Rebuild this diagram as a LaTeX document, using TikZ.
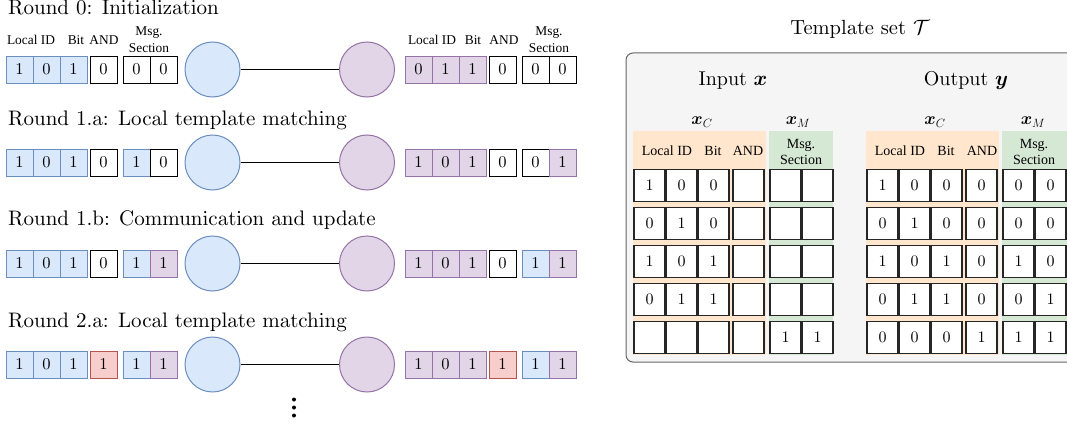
\documentclass[tikz,border=0pt]{standalone}
\usepackage{amsmath,bm}
\usepackage{fontspec}
\newfontfamily\labfont{Liberation Serif}
\DeclareFontFamily{OT1}{cmten}{}
\DeclareFontShape{OT1}{cmten}{m}{n}{<-> cmr10}{}
\newcommand\tenfont[1]{\fontencoding{OT1}\fontfamily{cmten}\fontsize{#1}{#1}\selectfont}
\definecolor{bfill}{HTML}{DAE8FC}\definecolor{bdraw}{HTML}{6C8EBF}
\definecolor{pfill}{HTML}{E1D5E7}\definecolor{pdraw}{HTML}{9673A6}
\definecolor{rfill}{HTML}{F8CECC}\definecolor{rdraw}{HTML}{B85450}
\definecolor{ofill}{HTML}{FFE6CC}\definecolor{gfill}{HTML}{D5E8D4}
\definecolor{boxfill}{HTML}{F5F5F5}\definecolor{boxdraw}{HTML}{666666}
\newcommand\cellrow[4]{%
  \foreach \s/\v [count=\i] in {#4} {
    \pgfmathsetmacro\cx{#2+{0,27,54,84,117,144}[\i-1]}
    \node[cell\s] (#1\i) at (\cx,#3) {\v};
  }}
\newcommand\tabrow[4]{%
  \foreach \v [count=\i] in {#4} {
    \pgfmathsetmacro\cx{#2+{0,32,64,99,136,168}[\i-1]}
    \node[tcell] (#1\i) at (\cx,#3) {\v};
  }}
\begin{document}
\begin{tikzpicture}[x=1pt,y=-1pt,
  cellbase/.style={rectangle,minimum width=27pt,minimum height=27pt,inner sep=0pt,line width=0.8pt,font=\tenfont{16.5}},
  cellb/.style={cellbase,draw=bdraw,fill=bfill},
  cellp/.style={cellbase,draw=pdraw,fill=pfill},
  cellr/.style={cellbase,draw=rdraw,fill=rfill},
  cellw/.style={cellbase,draw=black,fill=white},
  nodeb/.style={circle,minimum size=55pt,inner sep=0pt,draw=bdraw,fill=bfill,line width=1pt},
  nodep/.style={circle,minimum size=55pt,inner sep=0pt,draw=pdraw,fill=pfill,line width=1pt},
  link/.style={line width=1.3pt,black},
  title/.style={anchor=base west,inner sep=0pt,font=\tenfont{21}},
  lab/.style={anchor=base,inner sep=0pt,font=\labfont\fontsize{13.4}{14}\selectfont},
  tlab/.style={anchor=base,inner sep=0pt,font=\labfont\fontsize{14}{15}\selectfont},
  head/.style={anchor=base,inner sep=0pt,font=\tenfont{20}},
  sub/.style={anchor=center,inner sep=0pt,font=\tenfont{17}},
  tcell/.style={rectangle,minimum width=31pt,minimum height=32pt,inner sep=0pt,draw=black!85,line width=1.5pt,fill=white,font=\tenfont{16}},
]
\useasboundingbox (0,0) rectangle (1067,425);
\fill[white] (0,0) rectangle (1067,425);
\begin{scope}
\clip (0,0) rectangle (1067,425);
% ---------- left panel ----------
\node[title] (t0) at (8,15) {Round 0: Initialization};
\node[title] (t1) at (8,125) {Round 1.a: Local template matching};
\node[title] (t2) at (8,225) {Round 1.b: Communication and update};
\node[title] (t3) at (8,327) {Round 2.a: Local template matching};
% labels row 0
\node[lab] (ll1) at (31,45) {Local ID};
\node[lab] (ll2) at (76,45) {Bit};
\node[lab] (ll3) at (104,45) {AND};
\node[lab] (ll4) at (149,36) {Msg.};
\node[lab] (ll5) at (149,53) {Section};
\node[lab] (rl1) at (432,45) {Local ID};
\node[lab] (rl2) at (473,45) {Bit};
\node[lab] (rl3) at (504,45) {AND};
\node[lab] (rl4) at (549,36) {Msg.};
\node[lab] (rl5) at (549,53) {Section};
% rows
\cellrow{aL}{19.5}{69.5}{b/1,b/0,b/1,w/0,w/0,w/0}
\cellrow{aR}{418.5}{69.5}{p/0,p/1,p/1,w/0,w/0,w/0}
\cellrow{bL}{19.5}{162.5}{b/1,b/0,b/1,w/0,b/1,w/0}
\cellrow{bR}{418.5}{162.5}{p/1,p/0,p/1,w/0,w/0,p/1}
\cellrow{cL}{19.5}{263.5}{b/1,b/0,b/1,w/0,b/1,p/1}
\cellrow{cR}{418.5}{263.5}{p/1,p/0,p/1,w/0,b/1,p/1}
\cellrow{dL}{19.5}{364.5}{b/1,b/0,b/1,r/1,b/1,p/1}
\cellrow{dR}{418.5}{364.5}{p/1,p/0,p/1,r/1,b/1,p/1}
% circles and links
\foreach \r/\y in {a/69.5,b/162.5,c/263.5,d/364.5} {
  \node[nodeb] (\r u) at (212.5,\y) {};
  \node[nodep] (\r v) at (367,\y) {};
  \draw[link] (\r u) -- (\r v);
}
\foreach \y in {399.5,407.5,415.5} \fill[black] (294,\y) circle (2pt);
% ---------- right panel ----------
\node[anchor=base,inner sep=0pt,font=\tenfont{20.5}] (ttl) at (860,35) {Template set $\mathcal{T}$};
\draw[boxdraw,fill=boxfill,line width=1pt,rounded corners=7pt] (626,53) rectangle (1090,362);
\node[head] (hin) at (733,86) {Input $\bm{x}$};
\node[head] (hout) at (966,86) {Output $\bm{y}$};
\node[sub] (s1) at (702,122) {$\bm{x}_C$};
\node[sub] (s2) at (798,122) {$\bm{x}_M$};
\node[sub] (s3) at (935,122) {$\bm{x}_C$};
\node[sub] (s4) at (1033,122) {$\bm{x}_M$};
\fill[ofill] (633,131) rectangle (766,355);
\fill[gfill] (769,131) rectangle (833,355);
\fill[ofill] (866,131) rectangle (999,355);
\fill[gfill] (1002,131) rectangle (1080,355);
\node[tlab] (h1) at (667,155) {Local ID};
\node[tlab] (h2) at (713,155) {Bit};
\node[tlab] (h3) at (748,155) {AND};
\node[tlab] (h4) at (801,148) {Msg.};
\node[tlab] (h5) at (801,164) {Section};
\node[tlab] (k1) at (900,155) {Local ID};
\node[tlab] (k2) at (946,155) {Bit};
\node[tlab] (k3) at (982,155) {AND};
\node[tlab] (k4) at (1034,148) {Msg.};
\node[tlab] (k5) at (1034,164) {Section};
\tabrow{ia}{649.5}{185.5}{1,0,0,{},{},{}}
\tabrow{ib}{649.5}{223.5}{0,1,0,{},{},{}}
\tabrow{ic}{649.5}{261.5}{1,0,1,{},{},{}}
\tabrow{id}{649.5}{299.5}{0,1,1,{},{},{}}
\tabrow{ie}{649.5}{337.5}{{},{},{},{},1,1}
\tabrow{oa}{882.5}{185.5}{1,0,0,0,0,0}
\tabrow{ob}{882.5}{223.5}{0,1,0,0,0,0}
\tabrow{oc}{882.5}{261.5}{1,0,1,0,1,0}
\tabrow{od}{882.5}{299.5}{0,1,1,0,0,1}
\tabrow{oe}{882.5}{337.5}{0,0,0,1,1,1}
\end{scope}
\end{tikzpicture}
\end{document}
